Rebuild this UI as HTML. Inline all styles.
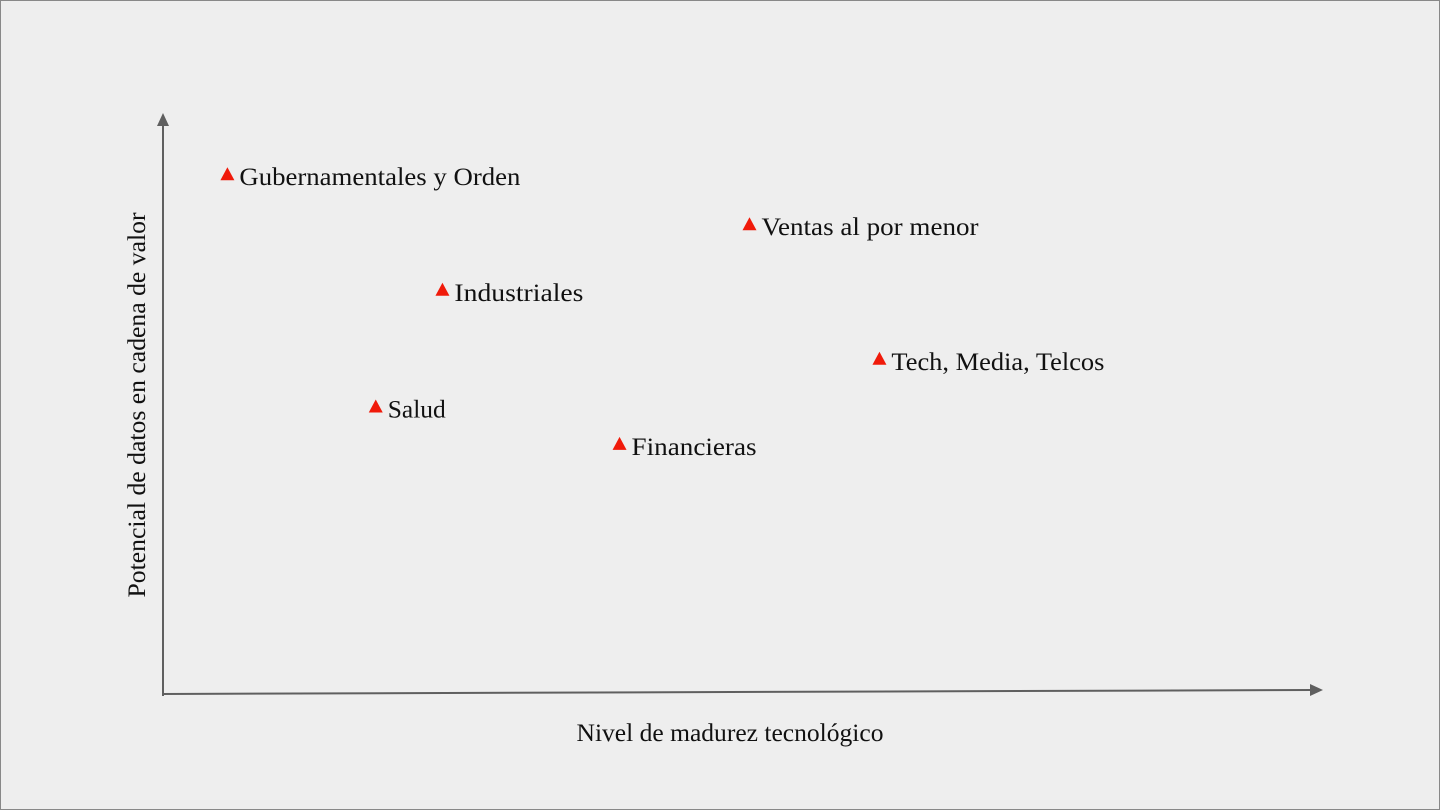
<!DOCTYPE html>
<html><head><meta charset="utf-8"><style>
html,body{margin:0;padding:0;background:#eeeeee;}
svg{display:block;}
text{font-family:"Liberation Serif",serif;fill:#111;}
</style></head><body>
<svg width="1440" height="810" viewBox="0 0 1440 810">
<rect x="0.5" y="0.5" width="1439" height="809" fill="#eeeeee" stroke="#888"/>
<line x1="163" y1="696" x2="163" y2="124" stroke="#5f5f5f" stroke-width="2"/>
<polygon points="163,113 157,126 169,126" fill="#5f5f5f"/>
<line x1="162" y1="694" x2="1312" y2="690" stroke="#5f5f5f" stroke-width="2"/>
<polygon points="1323,690 1310,684 1310,696" fill="#5f5f5f"/>
<text x="730" y="741" font-size="25" text-anchor="middle" textLength="307" lengthAdjust="spacingAndGlyphs">Nivel de madurez tecnológico</text>
<text transform="translate(145,405) rotate(-90)" font-size="25" text-anchor="middle" textLength="385" lengthAdjust="spacingAndGlyphs">Potencial de datos en cadena de valor</text>
<g id="pts"></g>
</svg>
<script>
const categories=["Gubernamentales y Orden","Ventas al por menor","Industriales","Tech, Media, Telcos","Salud","Financieras"];
const xValues=[5.6,51,24.3,62.3,18.5,39.7];
const yValues=[90.4,81.7,70.3,58.3,50,43.5];
const labelWidths=[281,217,129,213,58,125];
function xs(v){return 163+v*11.5;}
function ys(v){return 695-v*5.75;}
const g=document.getElementById('pts');
const NS='http://www.w3.org/2000/svg';
categories.forEach((c,i)=>{
  const x=xs(xValues[i]),y=ys(yValues[i]);
  const p=document.createElementNS(NS,'polygon');
  p.setAttribute('points',`${x},${y-8} ${x-7},${y+5} ${x+7},${y+5}`);
  p.setAttribute('fill','#f01a0a');
  
  
  g.appendChild(p);
  const t=document.createElementNS(NS,'text');
  t.setAttribute('x',x+12);t.setAttribute('y',y+10);
  t.setAttribute('font-size','25');
  t.setAttribute('textLength',labelWidths[i]);
  t.setAttribute('lengthAdjust','spacingAndGlyphs');
  t.textContent=c;
  
  
  g.appendChild(t);
});
</script>
</body></html>
